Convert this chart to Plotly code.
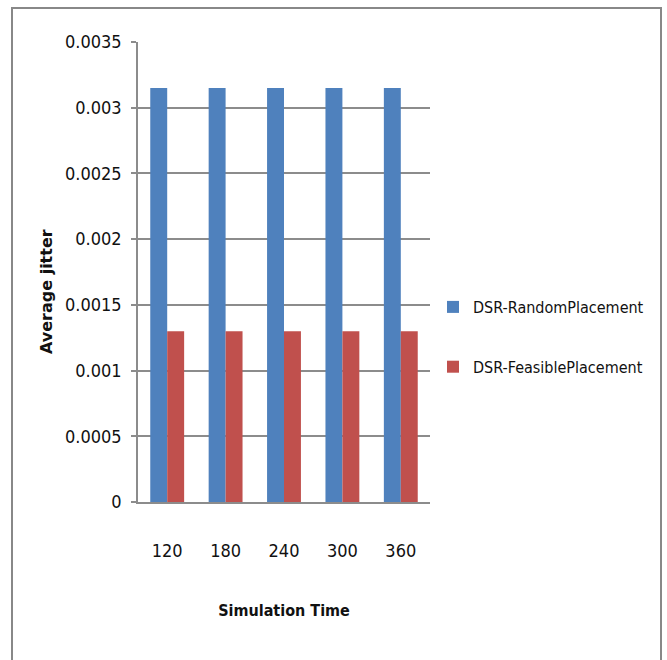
import plotly.graph_objects as go

# Simulation times (s) and the average jitter measured for each DSR placement
sim_times = ["120", "180", "240", "300", "360"]
random_placement = [0.00315, 0.00315, 0.00315, 0.00315, 0.00315]
feasible_placement = [0.0013, 0.0013, 0.0013, 0.0013, 0.0013]
y_ticks = [0, 0.0005, 0.001, 0.0015, 0.002, 0.0025, 0.003, 0.0035]
y_tick_text = ["0", "0.0005", "0.001", "0.0015", "0.002", "0.0025", "0.003", "0.0035"]

W, H = 667, 660
L, R, T, B = 138, 237, 42, 158
pw, ph = W - L - R, H - T - B

narrow = "Liberation Sans Narrow, DejaVu Sans Condensed, Roboto Condensed, Roboto, sans-serif"

fig = go.Figure()
fig.add_trace(go.Bar(x=sim_times, y=random_placement, name="DSR-RandomPlacement",
                     marker=dict(color="#4F81BD", line=dict(width=0)), legendgroup="a"))
fig.add_trace(go.Bar(x=sim_times, y=feasible_placement, name="DSR-FeasiblePlacement",
                     marker=dict(color="#C0504D", line=dict(width=0)), legendgroup="b"))


def px_x(x):
    return (x - L) / pw


def px_y(y):
    return (T + ph - y) / ph


fig.update_layout(
    width=W, height=H,
    margin=dict(l=L, r=R, t=T, b=B, autoexpand=False),
    paper_bgcolor="white", plot_bgcolor="white",
    barmode="group", bargap=0.42, bargroupgap=0,
    font=dict(family=narrow, size=18, color="#111"),
    xaxis=dict(
        showgrid=False, showline=True, linecolor="#8c8c8c", linewidth=1.5,
        ticks="", ticklabelstandoff=32, tickfont=dict(size=18),
        title=dict(text="<b>Simulation Time</b>", font=dict(family=narrow, size=16), standoff=44),
        fixedrange=True,
    ),
    yaxis=dict(
        range=[0, 0.0035], tickvals=y_ticks, ticktext=y_tick_text,
        showgrid=True, gridcolor="#8c8c8c", gridwidth=1.5,
        showline=True, linecolor="#8c8c8c", linewidth=1.5,
        ticks="outside", ticklen=5, tickcolor="#8c8c8c", tickwidth=1.5,
        ticklabelstandoff=6, tickfont=dict(size=18), zeroline=False,
        fixedrange=True,
    ),
    legend=dict(
        x=px_x(433), xanchor="left", y=px_y(337), yanchor="middle",
        font=dict(family=narrow, size=16), tracegroupgap=36,
        bgcolor="rgba(0,0,0,0)",
    ),
    annotations=[dict(text="<b>Average jitter</b>", textangle=-90,
                      xref="paper", yref="paper", x=px_x(46), y=px_y(292),
                      xanchor="center", yanchor="middle", showarrow=False,
                      font=dict(family="DejaVu Sans, sans-serif", size=16, color="#111"))],
    shapes=[dict(type="rect", xref="paper", yref="paper",
                 x0=px_x(12), x1=px_x(661), y0=px_y(668), y1=px_y(8),
                 line=dict(color="#888888", width=2), fillcolor="rgba(0,0,0,0)",
                 layer="below")],
)

fig.write_html("out.html")
